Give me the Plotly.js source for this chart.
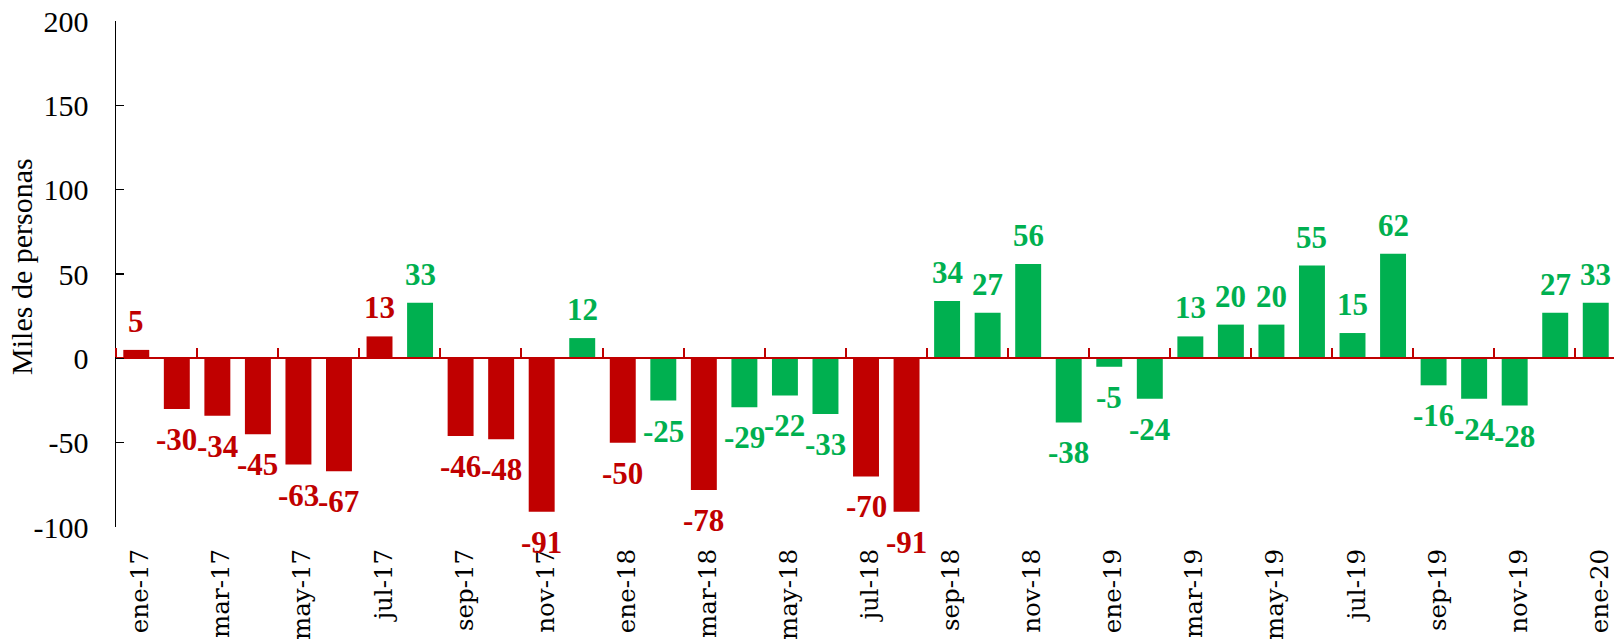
<!DOCTYPE html>
<html>
<head>
<meta charset="utf-8">
<script src="https://cdn.plot.ly/plotly-3.0.1.min.js"></script>
<style>html,body{margin:0;padding:0;background:#fff;}#chart{width:1614px;height:642px;}</style>
</head>
<body>
<div id="chart"></div>
<script>
const meses = ['ene-17','feb-17','mar-17','abr-17','may-17','jun-17','jul-17','ago-17','sep-17','oct-17','nov-17','dic-17',
  'ene-18','feb-18','mar-18','abr-18','may-18','jun-18','jul-18','ago-18','sep-18','oct-18','nov-18','dic-18',
  'ene-19','feb-19','mar-19','abr-19','may-19','jun-19','jul-19','ago-19','sep-19','oct-19','nov-19','dic-19','ene-20'];
const variacion = [5,-30,-34,-45,-63,-67,13,33,-46,-48,-91,12,
  -50,-25,-78,-29,-22,-33,-70,-91,34,27,56,-38,
  -5,-24,13,20,20,55,15,62,-16,-24,-28,27,33];
const grupo = ['rojo','rojo','rojo','rojo','rojo','rojo','rojo','verde','rojo','rojo','rojo','verde',
  'rojo','verde','rojo','verde','verde','verde','rojo','rojo','verde','verde','verde','verde',
  'verde','verde','verde','verde','verde','verde','verde','verde','verde','verde','verde','verde','verde'];
const yTicks = [-100, -50, 0, 50, 100, 150, 200];
const tituloY = 'Miles de personas';

const colorDe = {rojo: '#C00000', verde: '#00B050'};
const idx = meses.map((m, i) => i);
const colores = grupo.map(g => colorDe[g]);
const tickIdx = idx.filter(i => i % 2 === 0);
const sepIdx = tickIdx.map(i => i - 0.5);
const xr = [-0.5, 36.45];

const barras = {
  type: 'bar', x: idx, y: variacion, xaxis: 'x', yaxis: 'y',
  marker: {color: colores, line: {width: 0}}, width: 0.64,
  hoverinfo: 'none'
};
// invisible companion so the zero axis (x2) is drawn
const eje0 = {
  type: 'scatter', mode: 'none', x: idx, y: variacion, xaxis: 'x2', yaxis: 'y',
  hoverinfo: 'skip', showlegend: false
};

const annotations = variacion.map((v, i) => ({
  x: i, y: v, xref: 'x', yref: 'y', text: String(v), showarrow: false,
  xanchor: 'center', yanchor: v >= 0 ? 'bottom' : 'top', yshift: v >= 0 ? 9 : -11,
  font: {family: 'Liberation Serif', size: 31, color: colores[i], weight: 'bold'}
}));
annotations.push({
  xref: 'paper', yref: 'paper', x: 0, y: 0.514, xshift: -94, xanchor: 'center', yanchor: 'middle',
  text: tituloY, textangle: -90, showarrow: false,
  font: {family: 'Liberation Serif', size: 30, color: '#000'}
});

const layout = {
  width: 1614, height: 642,
  margin: {l: 116, r: 0, t: 21, b: 115},
  paper_bgcolor: '#fff', plot_bgcolor: '#fff',
  showlegend: false,
  font: {family: 'Liberation Serif', color: '#000'},
  xaxis: {
    range: xr, type: 'linear', showgrid: false, zeroline: false, showline: false,
    tickmode: 'array', tickvals: tickIdx.map(i => i + 0.1), ticktext: tickIdx.map(i => meses[i]),
    tickangle: -90, ticks: '', ticklabelstandoff: 16,
    tickfont: {family: 'DejaVu Serif', size: 24.5, color: '#000'}
  },
  xaxis2: {
    range: xr, type: 'linear', overlaying: 'x', anchor: 'free', position: 1/3, side: 'top',
    showgrid: false, zeroline: false, showline: true, linecolor: '#C00000', linewidth: 2,
    tickmode: 'array', tickvals: sepIdx, ticks: 'outside', ticklen: 9, tickwidth: 2,
    tickcolor: '#C00000', showticklabels: false
  },
  yaxis: {
    range: [-100, 200], tickmode: 'array', tickvals: yTicks, ticktext: yTicks.map(String),
    showgrid: false, zeroline: false,
    showline: true, linecolor: '#000', linewidth: 1.5,
    ticks: 'inside', ticklen: 8, tickwidth: 1.5, tickcolor: '#000',
    ticklabelstandoff: 20,
    tickfont: {family: 'Liberation Serif', size: 30, color: '#000'}
  },
  annotations: annotations
};

Plotly.newPlot('chart', [barras, eje0], layout, {displayModeBar: false, staticPlot: true});
</script>
</body>
</html>
